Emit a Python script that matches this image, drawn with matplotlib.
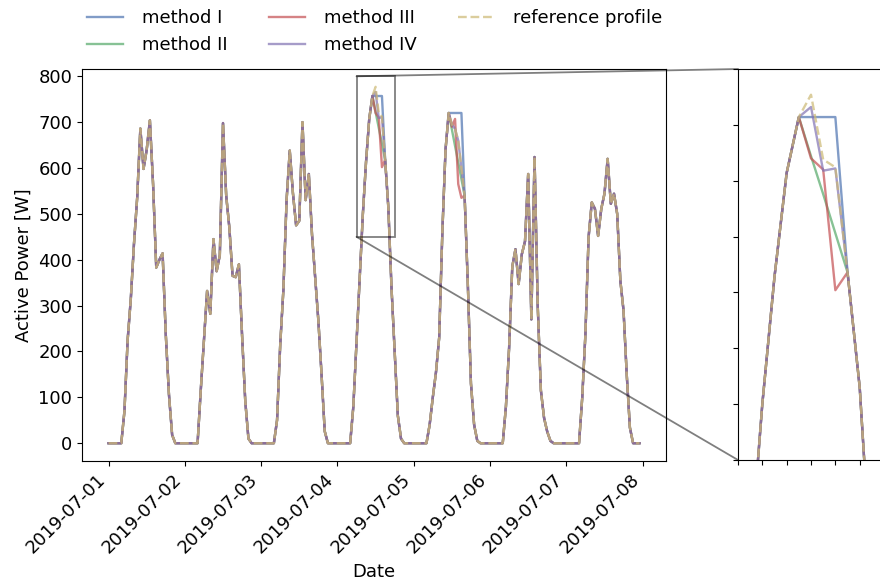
import numpy as np
import pandas as pd
import matplotlib
matplotlib.use('Agg')
import matplotlib.pyplot as plt
import matplotlib.dates as mdates
from matplotlib.patches import Rectangle, ConnectionPatch

plt.rcParams['font.size'] = 13

# hourly reference profile per day (hours 0..23), in W
day1 = [0, 0, 0, 0, 0, 70, 225, 315, 435, 535, 686, 598, 640, 704, 565, 383, 400, 414, 237, 106, 18, 0, 0, 0]
day2 = [0, 0, 0, 0, 0, 115, 223, 332, 282, 445, 375, 410, 698, 540, 470, 365, 362, 390, 235, 92, 10, 0, 0, 0]
day3 = [0, 0, 0, 0, 0, 50, 215, 335, 530, 638, 545, 475, 485, 700, 530, 587, 455, 362, 267, 150, 26, 0, 0, 0]
day4 = [0, 0, 0, 0, 0, 80, 220, 360, 500, 614, 707, 757, 777, 719, 712, 618, 515, 340, 200, 60, 10, 0, 0, 0]
day5 = [0, 0, 0, 0, 0, 40, 100, 155, 230, 460, 640, 720, 695, 685, 660, 600, 540, 350, 130, 40, 5, 0, 0, 0]
day6 = [0, 0, 0, 0, 0, 80, 208, 385, 423, 347, 412, 440, 587, 270, 624, 300, 115, 55, 25, 5, 0, 0, 0, 0]
day7 = [0, 0, 0, 0, 0, 99, 237, 449, 525, 511, 452, 511, 544, 620, 522, 544, 500, 354, 289, 150, 34, 0, 0, 0]

# gap-filled values of each method (day 4: 12-14 h, day 5: 12-15 h)
m1_d4 = [757, 757, 757]
m2_d4 = [722, 688, 653]
m3_d4 = [720, 710, 602]
m4_d4 = [766, 709, 711]
m1_d5 = [720, 720, 720, 720]
m2_d5 = [684, 648, 612, 576]
m3_d5 = [690, 707, 565, 535]
m4_d5 = [695, 685, 660, 600]

labels = ['method I', 'method II', 'method III', 'method IV']
colors = ['#4C72B0', '#55A868', '#C44E52', '#8172B2']

t = pd.date_range('2019-07-01', periods=168, freq='h')
ref = np.array(day1 + day2 + day3 + day4 + day5 + day6 + day7, dtype=float)

methods = []
for d4, d5 in [(m1_d4, m1_d5), (m2_d4, m2_d5), (m3_d4, m3_d5), (m4_d4, m4_d5)]:
    y = ref.copy()
    y[72 + 11] = 757
    y[72 + 12:72 + 15] = d4
    y[96 + 12:96 + 16] = d5
    methods.append(y)

fig = plt.figure(figsize=(8.8, 5.81), dpi=100)
ax = fig.add_axes([0.0932, 0.2065, 0.6636, 0.6747])
axins = fig.add_axes([0.8386, 0.2083, 0.166, 0.6729])

for a in (ax, axins):
    for y, lab, c in zip(methods, labels, colors):
        a.plot(t, y, color=c, alpha=0.7, lw=1.7, label=lab)
    a.plot(t, ref, color='#CCB974', alpha=0.7, lw=1.7, ls='--', label='reference profile')

ax.xaxis.set_major_locator(mdates.DayLocator())
ax.xaxis.set_major_formatter(mdates.DateFormatter('%Y-%m-%d'))
plt.setp(ax.get_xticklabels(), rotation=45, ha='right')
ax.set_xlabel('Date')
ax.set_ylabel('Active Power [W]')

zx0 = pd.Timestamp('2019-07-04 06:00')
zx1 = pd.Timestamp('2019-07-04 18:00')
axins.set_xlim(zx0, zx1)
axins.set_ylim(450, 800)
axins.xaxis.set_major_locator(mdates.HourLocator(interval=2))
axins.yaxis.set_major_locator(plt.MultipleLocator(50))
axins.tick_params(labelbottom=False, labelleft=False)

# zoom box and connector lines
n0, n1 = mdates.date2num(zx0), mdates.date2num(zx1)
ax.add_patch(Rectangle((n0, 450), n1 - n0, 350, fill=False, ec='black',
                       alpha=0.5, lw=1.3, zorder=5))
for ya, yb in [(0, 450), (1, 800)]:
    con = ConnectionPatch(xyA=(0, ya), coordsA=axins.transAxes,
                          xyB=(n0, yb), coordsB=ax.transData,
                          color='black', alpha=0.5, lw=1.3)
    fig.add_artist(con)

ax.legend(loc='lower left', bbox_to_anchor=(-0.02, 0.996), ncol=3, frameon=False,
          handletextpad=1.05, columnspacing=2.3)

fig.savefig('out.png', dpi=100)
